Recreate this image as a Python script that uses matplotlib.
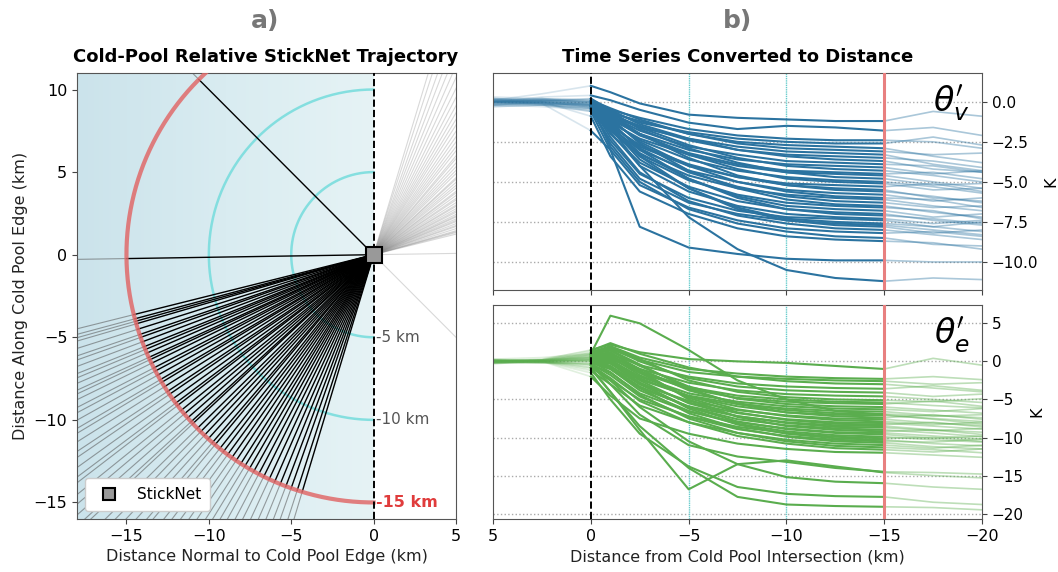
import numpy as np
import matplotlib
matplotlib.use("Agg")
import matplotlib.pyplot as plt
from matplotlib.colors import LinearSegmentedColormap
from matplotlib.lines import Line2D

# --- data -------------------------------------------------------------
# trajectory bearings (deg, counter-clockwise from +x) in cold-pool frame
traj_angles = [135.0, 180.9,
               194.0, 195.0, 195.6, 196.2, 197.5, 198.8, 199.5, 200.6, 201.8, 202.5,
               203.4, 204.5, 205.1, 206.0, 207.2, 208.0, 209.1, 210.3, 211.0,
               212.2, 213.5, 214.3, 215.6, 216.8, 217.5, 218.9, 220.0, 221.2,
               222.4, 223.0, 224.5, 225.6, 226.8, 228.0, 229.3, 230.1, 231.5,
               232.6, 233.8, 235.0, 236.2, 237.5, 238.6, 239.8, 241.0, 242.3,
               243.6, 245.0, 246.4, 247.8, 249.2, 250.5, 252.0, 253.2]
ring_km = [5, 10]
edge_km = 15

# distance from cold pool intersection (km)
dist_km = [5, 2.5, 0, -1, -2.5, -5, -7.5, -10, -12.5, -15, -17.5, -20]

theta_v = [
    [0.1, 0.5, 1.0, 0.6, -0.1, -0.8, -1.0, -1.1, -1.2, -1.2, -0.6, -0.9],
    [0.0, 0.3, 0.4, 0.1, -0.5, -1.3, -1.7, -1.5, -1.6, -1.8, -1.6, -2.1],
    [-0.1, 0.0, -0.1, -0.5, -1.0, -1.7, -2.1, -2.3, -2.4, -2.4, -2.5, -2.9],
    [0.2, 0.1, 0.0, -0.6, -1.3, -1.9, -2.3, -2.5, -2.6, -2.6, -2.2, -2.7],
    [-0.2, -0.1, -0.2, -0.7, -1.2, -2.0, -2.5, -2.7, -2.8, -2.9, -3.4, -3.8],
    [0.1, 0.2, 0.1, -0.4, -1.1, -2.0, -2.6, -2.9, -3.0, -3.1, -3.3, -3.2],
    [0.0, -0.1, -0.3, -0.9, -1.6, -2.3, -2.8, -3.1, -3.2, -3.3, -3.9, -4.3],
    [-0.3, -0.2, -0.1, -0.8, -1.5, -2.4, -3.0, -3.3, -3.4, -3.5, -3.7, -4.1],
    [0.0, 0.1, 0.2, -0.5, -1.4, -2.3, -3.0, -3.4, -3.6, -3.7, -4.2, -4.4],
    [0.1, 0.0, -0.2, -0.9, -1.8, -2.8, -3.3, -3.7, -3.8, -3.9, -4.0, -4.4],
    [-0.1, -0.2, -0.4, -1.1, -2.0, -3.0, -3.6, -3.9, -4.0, -4.1, -4.5, -4.3],
    [0.2, 0.1, 0.0, -0.7, -1.6, -2.7, -3.5, -4.0, -4.2, -4.3, -4.6, -5.0],
    [0.0, -0.1, -0.2, -1.0, -2.1, -3.2, -3.9, -4.3, -4.4, -4.5, -4.4, -4.8],
    [-0.2, -0.3, -0.5, -1.3, -2.3, -3.3, -4.0, -4.4, -4.5, -4.6, -5.0, -5.4],
    [0.1, 0.2, 0.1, -0.6, -1.7, -2.9, -3.8, -4.4, -4.7, -4.8, -5.2, -5.1],
    [0.0, 0.0, -0.3, -1.2, -2.4, -3.6, -4.3, -4.7, -4.9, -5.0, -5.3, -5.7],
    [-0.1, 0.1, 0.0, -0.9, -2.0, -3.3, -4.2, -4.8, -5.0, -5.1, -5.5, -5.4],
    [0.3, 0.2, -0.1, -1.4, -2.8, -4.0, -4.7, -5.1, -5.2, -5.3, -5.1, -5.6],
    [0.0, -0.2, -0.4, -1.5, -2.7, -3.9, -4.7, -5.2, -5.4, -5.5, -6.0, -6.2],
    [-0.2, 0.0, 0.2, -0.8, -2.0, -3.5, -4.6, -5.2, -5.5, -5.6, -5.9, -6.3],
    [0.1, -0.1, -0.3, -1.6, -3.0, -4.3, -5.0, -5.5, -5.7, -5.8, -6.2, -6.0],
    [0.0, 0.1, -0.1, -1.1, -2.5, -4.0, -5.0, -5.6, -5.9, -6.0, -6.1, -6.6],
    [-0.1, -0.2, -0.6, -1.8, -3.3, -4.6, -5.4, -5.8, -6.0, -6.1, -6.5, -6.8],
    [0.2, 0.0, -0.2, -1.3, -2.9, -4.4, -5.3, -5.9, -6.2, -6.3, -6.6, -6.5],
    [0.0, 0.1, 0.0, -1.0, -2.6, -4.3, -5.4, -6.1, -6.4, -6.5, -6.9, -7.2],
    [-0.3, -0.2, -0.4, -1.7, -3.4, -4.9, -5.8, -6.3, -6.5, -6.6, -6.8, -7.3],
    [0.1, 0.0, -0.1, -1.5, -3.2, -4.8, -5.9, -6.5, -6.7, -6.8, -7.2, -7.0],
    [0.0, -0.1, -0.3, -2.0, -3.8, -5.3, -6.2, -6.7, -6.9, -7.0, -7.4, -7.7],
    [-0.1, 0.1, 0.1, -1.2, -3.0, -4.8, -6.0, -6.7, -7.0, -7.1, -7.3, -7.6],
    [0.2, 0.1, -0.2, -1.9, -4.0, -5.6, -6.5, -7.0, -7.2, -7.3, -7.6, -7.4],
    [0.0, -0.1, -0.5, -2.4, -4.5, -6.0, -6.8, -7.2, -7.3, -7.4, -7.8, -8.1],
    [-0.2, -0.1, 0.0, -1.6, -3.6, -5.4, -6.6, -7.3, -7.5, -7.6, -7.8, -7.5],
    [0.1, 0.0, -0.4, -2.6, -4.8, -6.3, -7.0, -7.4, -7.6, -7.7, -8.0, -8.3],
    [0.0, 0.2, 0.0, -1.4, -3.4, -5.4, -6.7, -7.4, -7.7, -7.8, -8.2, -8.0],
    [-0.1, 0.0, -0.3, -2.2, -4.4, -6.2, -7.1, -7.6, -7.9, -8.0, -8.3, -8.6],
    [0.1, -0.1, -0.6, -3.0, -5.2, -6.6, -7.4, -7.9, -8.1, -8.2, -8.1, -8.4],
    [0.0, 0.1, -0.2, -2.8, -5.0, -6.7, -7.6, -8.1, -8.4, -8.5, -8.9, -9.0],
    [-0.2, 0.0, -0.9, -3.4, -5.6, -7.0, -7.9, -8.4, -8.6, -8.7, -8.8, -9.2],
    [0.0, -0.1, -1.8, -3.0, -7.8, -9.1, -9.5, -9.8, -9.9, -9.9, -10.0, -10.0],
    [0.1, 0.0, -0.2, -1.6, -4.0, -7.2, -9.2, -10.5, -11.0, -11.2, -11.0, -11.1],
]

theta_e = [
    [0.3, 0.5, 1.0, 6.0, 5.0, 1.5, -2.5, -5.0, -6.5, -7.0, -7.6, -8.2],
    [0.0, 0.2, 1.5, 2.2, 1.2, 0.3, 0.0, -0.2, -0.6, -1.0, 0.4, -0.5],
    [-0.2, 0.1, 1.2, 2.0, 0.5, -1.0, -1.6, -2.0, -2.2, -2.3, -2.0, -2.4],
    [0.1, -0.1, 0.8, 1.6, 0.2, -1.4, -2.0, -2.3, -2.5, -2.6, -3.0, -2.8],
    [0.0, 0.3, 1.4, 2.4, 1.0, -0.8, -2.0, -2.6, -2.9, -3.0, -3.5, -4.0],
    [-0.3, 0.0, 0.5, 1.0, -0.5, -2.0, -2.9, -3.3, -3.5, -3.6, -3.2, -3.8],
    [0.2, 0.1, 0.9, 1.8, 0.0, -2.2, -3.3, -3.8, -4.0, -4.1, -4.6, -4.3],
    [0.0, -0.2, 0.3, 0.6, -1.0, -2.8, -3.8, -4.3, -4.5, -4.6, -5.0, -5.4],
    [-0.1, 0.2, 1.1, 1.9, 0.3, -2.5, -4.0, -4.7, -5.0, -5.1, -5.3, -4.9],
    [0.1, 0.0, 0.6, 0.8, -1.3, -3.4, -4.5, -5.0, -5.3, -5.4, -5.8, -6.1],
    [-0.2, -0.1, 0.2, 0.4, -1.5, -3.6, -4.8, -5.3, -5.5, -5.6, -5.2, -5.9],
    [0.0, 0.2, 1.0, 1.4, -0.6, -3.3, -4.9, -5.6, -5.9, -6.0, -6.4, -6.8],
    [0.3, 0.1, 0.4, 0.2, -2.0, -4.2, -5.3, -5.9, -6.2, -6.3, -6.6, -6.2],
    [-0.1, -0.2, 0.0, -0.3, -2.4, -4.5, -5.6, -6.2, -6.5, -6.6, -7.1, -7.4],
    [0.0, 0.1, 0.7, 1.1, -1.0, -3.8, -5.5, -6.4, -6.8, -6.9, -7.2, -7.0],
    [0.2, 0.0, 0.3, 0.0, -2.2, -4.6, -5.9, -6.7, -7.0, -7.1, -7.5, -7.9],
    [-0.2, 0.1, 0.9, 1.5, -0.4, -3.6, -5.6, -6.7, -7.2, -7.4, -7.0, -7.6],
    [0.0, -0.1, 0.1, -0.6, -3.0, -5.2, -6.4, -7.1, -7.5, -7.6, -8.1, -8.4],
    [0.1, 0.2, 0.5, 0.6, -1.8, -4.6, -6.3, -7.2, -7.7, -7.9, -8.3, -8.0],
    [-0.1, 0.0, 0.2, -0.2, -2.8, -5.4, -6.8, -7.6, -8.0, -8.1, -8.5, -8.9],
    [0.2, 0.1, 0.6, 0.9, -1.5, -4.8, -6.7, -7.7, -8.2, -8.3, -8.0, -8.6],
    [0.0, -0.2, -0.2, -1.0, -3.5, -5.9, -7.2, -8.0, -8.4, -8.5, -9.0, -9.3],
    [-0.3, 0.0, 0.4, 0.3, -2.5, -5.5, -7.2, -8.1, -8.6, -8.7, -9.1, -8.8],
    [0.1, 0.1, 0.0, -0.8, -3.3, -6.0, -7.6, -8.4, -8.8, -9.0, -9.4, -9.9],
    [0.0, 0.2, 0.8, 1.2, -1.2, -5.0, -7.3, -8.5, -9.0, -9.2, -9.0, -9.6],
    [-0.2, -0.1, -0.4, -1.5, -4.2, -6.6, -8.0, -8.8, -9.3, -9.4, -9.8, -10.2],
    [0.2, 0.0, 0.3, -0.2, -3.0, -6.0, -7.9, -8.9, -9.4, -9.6, -10.1, -9.8],
    [0.0, 0.1, 0.1, -1.0, -3.8, -6.5, -8.2, -9.2, -9.7, -9.9, -10.3, -10.6],
    [-0.1, 0.0, -0.8, -2.5, -5.0, -7.2, -8.6, -9.4, -9.9, -10.1, -10.0, -10.5],
    [0.1, 0.2, 0.5, 0.0, -2.8, -6.2, -8.3, -9.5, -10.1, -10.3, -10.8, -11.1],
    [0.0, -0.1, -0.3, -1.8, -4.6, -7.3, -8.9, -9.8, -10.3, -10.5, -10.6, -10.2],
    [-0.2, 0.1, 0.2, -0.6, -3.5, -6.8, -8.8, -9.9, -10.5, -10.7, -11.2, -11.5],
    [0.2, 0.0, -1.2, -3.0, -5.8, -8.0, -9.4, -10.3, -10.8, -11.0, -11.4, -11.0],
    [0.0, 0.1, 0.0, -1.4, -4.4, -7.5, -9.4, -10.5, -11.1, -11.3, -11.6, -12.0],
    [-0.1, -0.2, -0.5, -2.2, -5.2, -8.0, -9.8, -10.8, -11.4, -11.6, -11.9, -11.5],
    [0.1, 0.0, -2.0, -4.5, -7.5, -9.5, -10.8, -11.5, -11.9, -12.0, -12.3, -12.6],
    [0.0, 0.1, -0.5, -3.0, -7.0, -11.0, -12.5, -13.2, -14.0, -14.5, -14.6, -14.8],
    [-0.2, 0.0, -1.0, -4.0, -9.0, -16.8, -13.5, -13.0, -13.8, -14.6, -15.0, -15.3],
    [0.0, -0.1, -0.3, -2.5, -6.0, -10.5, -13.5, -15.2, -15.8, -16.0, -16.5, -16.8],
    [0.1, 0.0, -1.5, -5.0, -9.5, -13.8, -16.5, -17.4, -17.7, -17.8, -18.5, -18.8],
    [-0.1, 0.1, -0.8, -4.0, -8.5, -14.0, -17.8, -18.8, -19.0, -19.1, -19.2, -19.5],
]

# --- figure -----------------------------------------------------------
plt.rcParams['font.family'] = 'DejaVu Sans'
fig = plt.figure(figsize=(10.58, 5.72), dpi=100)

ax = fig.add_axes([0.0728, 0.0927, 0.3582, 0.7797])
ax_v = fig.add_axes([0.466, 0.493, 0.4622, 0.3794])
ax_e = fig.add_axes([0.466, 0.0927, 0.4622, 0.374])

# ---- panel a ----
bg = LinearSegmentedColormap.from_list('bg', ['#cbe3eb', '#d9ecf1', '#e6f3f5'])
ax.imshow(np.linspace(0, 1, 200)[None, :], extent=(-18, 0, -16, 11),
          cmap=bg, aspect='auto', zorder=0)

for ang in traj_angles:
    dx, dy = np.cos(np.radians(ang)), np.sin(np.radians(ang))
    ax.plot([0, -40 * dx], [0, -40 * dy], color='gray', alpha=0.3, lw=0.8, zorder=1)
    ax.plot([edge_km * dx, 40 * dx], [edge_km * dy, 40 * dy],
            color='#555555', alpha=0.55, lw=0.8, zorder=1)
    ax.plot([0, edge_km * dx], [0, edge_km * dy], color='black', lw=1.0, zorder=3)

t = np.linspace(np.pi / 2, 3 * np.pi / 2, 300)
for r in ring_km:
    ax.plot(r * np.cos(t), r * np.sin(t), color='#74dcdc', lw=1.8, alpha=0.85, zorder=2)
ax.plot(edge_km * np.cos(t), edge_km * np.sin(t), color='#e06a6a', lw=3,
        alpha=0.85, zorder=4)

ax.axvline(0, color='black', ls='--', lw=1.4, zorder=5)
ax.plot([0], [0], 's', color='#999999', mec='black', mew=1.5, ms=11, zorder=6)

for r in ring_km:
    ax.text(0.15, -r, f'-{r} km', color='#555555', fontsize=11, va='center', zorder=7)
ax.text(0.15, -edge_km, f'-{edge_km} km', color='#e03c3c', fontsize=11.5,
        fontweight='bold', va='center', zorder=7)

h = Line2D([], [], marker='s', ls='none', color='#999999', mec='black', mew=1.5, ms=9)
ax.legend([h], ['StickNet'], loc='lower left', fontsize=11, framealpha=1,
          borderpad=0.6, handletextpad=0.8)

ax.set_xlim(-18, 5)
ax.set_ylim(-16, 11)
ax.set_xticks([-15, -10, -5, 0, 5])
ax.set_yticks([-15, -10, -5, 0, 5, 10])
ax.tick_params(labelsize=11.5, color='#444444')
ax.set_xlabel('Distance Normal to Cold Pool Edge (km)', fontsize=11.5, color='#222222')
ax.set_ylabel('Distance Along Cold Pool Edge (km)', fontsize=11.5, color='#222222')
for s in ax.spines.values():
    s.set_color('#555555')

fig.text(0.251, 0.963, 'a)', fontsize=18, fontweight='bold', color='#777777',
         ha='center', va='center')
fig.text(0.251, 0.9, 'Cold-Pool Relative StickNet Trajectory', fontsize=13,
         fontweight='bold', ha='center', va='center')

# ---- panel b ----
d = np.array(dist_km)
pre = d >= 0
main = (d <= 0) & (d >= -15)
post = d <= -15


def draw_series(a, rows, color, label, ylim, yticks, fmt):
    for row in rows:
        y = np.array(row)
        a.plot(d[pre], y[pre], color=color, alpha=0.18, lw=1.2, zorder=2)
        a.plot(d[post], y[post], color=color, alpha=0.4, lw=1.2, zorder=2)
        a.plot(d[main], y[main], color=color, alpha=1.0, lw=1.5, zorder=3)
    a.axvline(0, color='black', ls='--', lw=1.4, zorder=4)
    for r in ring_km:
        a.axvline(-r, color='#66cccc', lw=1.0, ls=(0, (1, 0.6)), zorder=1)
    a.axvline(-edge_km, color='#e88080', lw=2.2, zorder=5)
    a.set_xlim(5, -20)
    a.set_ylim(*ylim)
    a.set_yticks(yticks)
    a.set_yticklabels([fmt(v) for v in yticks])
    a.yaxis.tick_right()
    a.yaxis.set_label_position('right')
    a.set_ylabel('K', fontsize=11.5, labelpad=4)
    a.grid(axis='y', color='#aaaaaa', ls=':', lw=1)
    a.set_axisbelow(True)
    a.tick_params(labelsize=11, color='#444444')
    a.tick_params(axis='x', labelsize=11.5)
    for s in a.spines.values():
        s.set_color('#555555')
    a.text(0.975, 0.95, label, transform=a.transAxes, fontsize=24,
           ha='right', va='top', zorder=6)


draw_series(ax_v, theta_v, '#2b73a0', r"$\theta_v'$", (-11.75, 1.8),
            [0, -2.5, -5, -7.5, -10], lambda v: f'{v:.1f}'.replace('-', '\u2212'))
draw_series(ax_e, theta_e, '#5aad4e', r"$\theta_e'$", (-20.7, 7.4),
            [5, 0, -5, -10, -15, -20], lambda v: f'{v:d}'.replace('-', '\u2212'))

ax_v.set_xticks([5, 0, -5, -10, -15, -20])
ax_v.set_xticklabels([])
ax_e.set_xticks([5, 0, -5, -10, -15, -20])
ax_e.set_xlabel('Distance from Cold Pool Intersection (km)', fontsize=11.5, color='#222222')

fig.text(0.697, 0.963, 'b)', fontsize=18, fontweight='bold', color='#777777',
         ha='center', va='center')
fig.text(0.697, 0.9, 'Time Series Converted to Distance', fontsize=13,
         fontweight='bold', ha='center', va='center')

fig.savefig('out.png', dpi=100)
